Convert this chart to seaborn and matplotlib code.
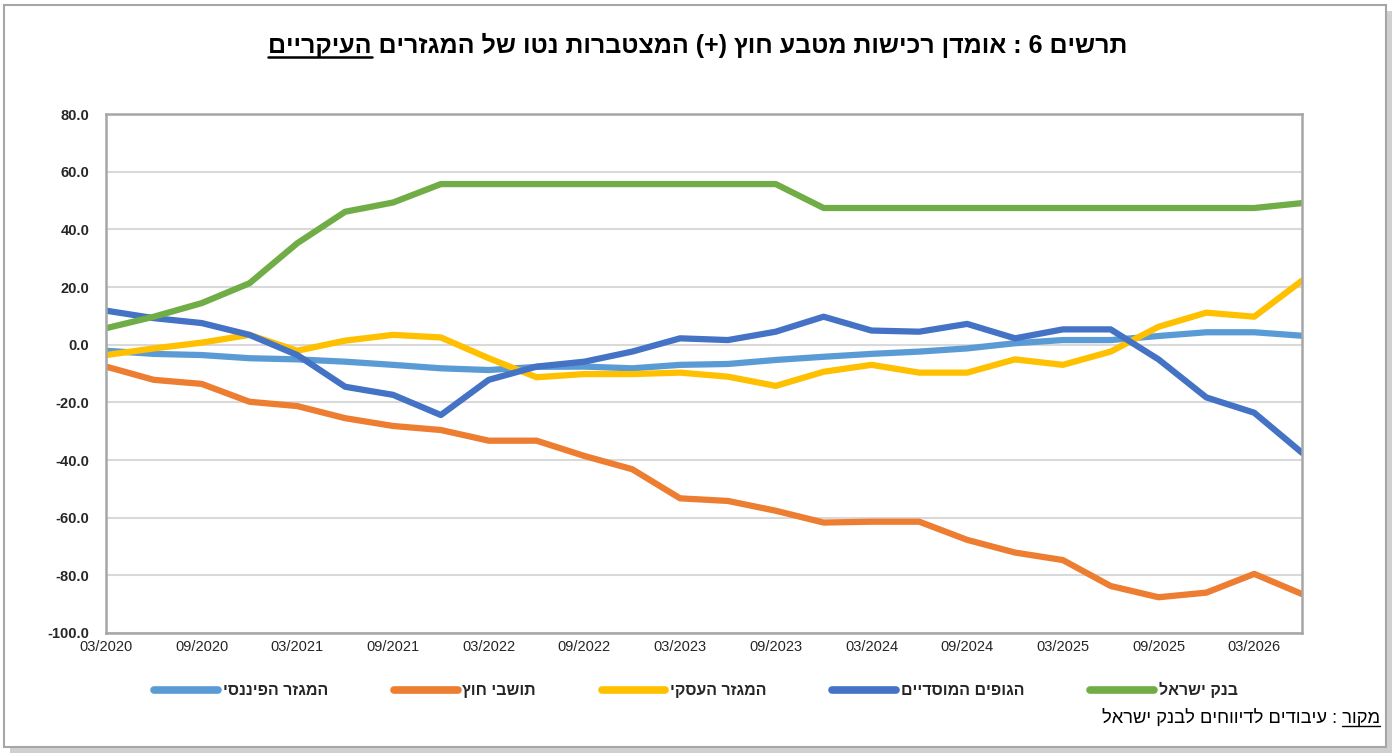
import pandas as pd
import matplotlib
matplotlib.use("Agg")
import matplotlib.pyplot as plt
from matplotlib.patches import Rectangle
from matplotlib.lines import Line2D
import seaborn as sns

# Hebrew has to be flipped by hand, matplotlib has no bidi support
def heb(s):
    return s[::-1].translate(str.maketrans("()", ")("))

# quarters on the x axis
quarters = ["03/2020", "06/2020", "09/2020", "12/2020", "03/2021", "06/2021", "09/2021", "12/2021",
            "03/2022", "06/2022", "09/2022", "12/2022", "03/2023", "06/2023", "09/2023", "12/2023",
            "03/2024", "06/2024", "09/2024", "12/2024", "03/2025", "06/2025", "09/2025", "12/2025",
            "03/2026", "06/2026"]
tick_labels = ["03/2020", "09/2020", "03/2021", "09/2021", "03/2022", "09/2022", "03/2023",
               "09/2023", "03/2024", "09/2024", "03/2025", "09/2025", "03/2026"]

financial = [-2.1, -3.2, -3.6, -4.7, -5.1, -5.9, -7.0, -8.2, -8.8, -7.7, -7.6, -8.2, -7.0,
             -6.7, -5.3, -4.2, -3.2, -2.4, -1.3, 0.5, 1.6, 1.6, 3.0, 4.3, 4.3, 3.1]
foreign = [-7.6, -12.2, -13.6, -19.8, -21.3, -25.5, -28.2, -29.6, -33.3, -33.3, -38.6, -43.2, -53.3,
           -54.2, -57.6, -61.7, -61.4, -61.4, -67.7, -72.1, -74.7, -83.7, -87.6, -86.0, -79.5, -86.5]
business = [-3.6, -1.3, 0.7, 3.4, -2.1, 1.4, 3.4, 2.5, -4.7, -11.3, -10.2, -10.2, -9.7,
            -11.1, -14.3, -9.4, -7.0, -9.7, -9.7, -5.1, -7.0, -2.4, 6.2, 11.1, 9.7, 22.2]
institutional = [11.8, 9.2, 7.5, 3.4, -3.6, -14.6, -17.4, -24.4, -12.2, -7.6, -5.9, -2.4, 2.2,
                 1.6, 4.5, 9.7, 4.9, 4.5, 7.2, 2.2, 5.3, 5.3, -5.1, -18.3, -23.6, -37.5]
boi = [5.7, 9.7, 14.4, 21.3, 35.2, 46.1, 49.3, 55.7, 55.7, 55.7, 55.7, 55.7, 55.7,
       55.7, 55.7, 47.4, 47.4, 47.4, 47.4, 47.4, 47.4, 47.4, 47.4, 47.4, 47.4, 49.1]

series_names = ["המגזר הפיננסי", "תושבי חוץ", "המגזר העסקי", "הגופים המוסדיים", "בנק ישראל"]
series_values = [financial, foreign, business, institutional, boi]
colors = ["#5B9BD5", "#ED7D31", "#FFC000", "#4472C4", "#70AD47"]

title_main = "תרשים 6 : אומדן רכישות מטבע חוץ (+) המצטברות נטו של המגזרים "
title_under = "העיקריים"
source_under = "מקור"
source_rest = " : עיבודים לדיווחים לבנק ישראל"

TITLE_FS = 18
SOURCE_FS = 13.2

# long form table for seaborn
rows = []
for name, vals in zip(series_names, series_values):
    for i, v in enumerate(vals):
        rows.append({"q": i, "quarter": quarters[i], "value": v, "series": heb(name)})
df = pd.DataFrame(rows)

sns.set_style("white")
plt.rcParams["font.family"] = ["Liberation Sans", "DejaVu Sans"]
plt.rcParams["axes.unicode_minus"] = False

fig, ax = plt.subplots(figsize=(13.96, 7.56), dpi=100)
fig.subplots_adjust(left=0.0759, right=0.9327, bottom=0.1627, top=0.8492)

sns.lineplot(data=df, x="q", y="value", hue="series",
             hue_order=[heb(n) for n in series_names], palette=colors,
             linewidth=4.5, sort=False, ax=ax)

ax.set_xlim(0, len(quarters) - 1)
ax.set_ylim(-100, 80)
ax.set_yticks(range(-100, 81, 20))
ax.set_yticklabels([f"{v:.1f}" for v in range(-100, 81, 20)], fontweight="bold", fontsize=10.5)
ax.set_xticks([quarters.index(t) for t in tick_labels])
ax.set_xticklabels(tick_labels, fontsize=10.5, color="#262626")
ax.tick_params(axis="both", length=0)
ax.tick_params(axis="y", pad=12)
ax.tick_params(axis="x", pad=5)
ax.set_xlabel("")
ax.set_ylabel("")
ax.yaxis.grid(True, color="#d9d9d9", linewidth=1.5)
ax.set_axisbelow(True)
for sp in ax.spines.values():
    sp.set_color("#a6a6a6")
    sp.set_linewidth(1.8)

# legend under the plot
handles, labels = ax.get_legend_handles_labels()
ax.get_legend().remove()
for h in handles:
    h.set_linewidth(5.5)
fig.legend(handles, labels, loc="center", bbox_to_anchor=(0.4985, 0.087), ncol=5, frameon=False,
           handlelength=4.0, columnspacing=4.1, handletextpad=0.3,
           prop={"weight": "bold", "size": 11.5})

# title and source
title = fig.text(0.5, 0.94, heb(title_under) + heb(title_main), ha="center", va="center",
                 fontsize=TITLE_FS, fontweight="bold", color="black")
source = fig.text(0.9885, 0.05, heb(source_rest) + heb(source_under), ha="right", va="center",
                  fontsize=SOURCE_FS, color="black")

fig.canvas.draw()
r = fig.canvas.get_renderer()
W, H = fig.bbox.width, fig.bbox.height

def word_width(txt, **kw):
    t = fig.text(0, 0, txt, **kw)
    w = t.get_window_extent(r).width
    t.remove()
    return w

tb = title.get_window_extent(r)
tw = word_width(heb(title_under), fontsize=TITLE_FS, fontweight="bold")
fig.add_artist(Line2D([tb.x0 / W, (tb.x0 + tw) / W], [(tb.y0 + 1) / H] * 2,
                      transform=fig.transFigure, color="black", lw=1.8))

sb = source.get_window_extent(r)
sw = word_width(heb(source_under), fontsize=SOURCE_FS)
fig.add_artist(Line2D([(sb.x1 - sw) / W, sb.x1 / W], [(sb.y0 + 1) / H] * 2,
                      transform=fig.transFigure, color="black", lw=1))

# outer frame with a small shadow
fig.add_artist(Rectangle((0.007, 0.004), 0.99, 0.982, transform=fig.transFigure,
                         facecolor="#d0d0d0", edgecolor="none", zorder=-2))
fig.add_artist(Rectangle((0.003, 0.012), 0.99, 0.982, transform=fig.transFigure,
                         facecolor="white", edgecolor="#a6a6a6", lw=1.5, zorder=-1))

fig.savefig("out.png", dpi=100)
